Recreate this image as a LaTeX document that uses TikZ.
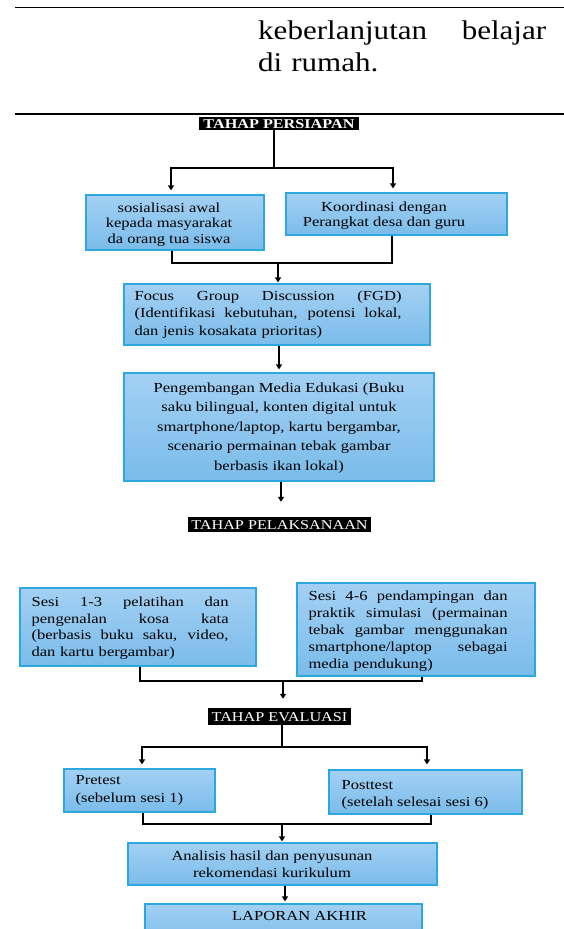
\documentclass[tikz,border=0pt]{standalone}
\usepackage{fontspec}
\setmainfont{Liberation Serif}
\newfontfamily\diagfont[FakeStretch=1.2]{Liberation Serif}
\newfontfamily\pagefont[FakeStretch=1.15]{Liberation Serif}
\usetikzlibrary{arrows.meta}

\definecolor{boxtop}{RGB}{163,208,243}
\definecolor{boxbottom}{RGB}{122,188,234}
\definecolor{boxline}{RGB}{44,167,223}

% full-width line, spaces stretched
\newcommand{\spreadline}[1]{{\spaceskip=0pt\xspaceskip=0pt\makebox[\hsize][s]{#1}}}

\tikzset{
  box/.style={draw=boxline, line width=1.2pt, top color=boxtop, bottom color=boxbottom, inner sep=0pt},
  stage/.style={fill=black, text=white, inner sep=0pt, text height=9pt, text depth=0pt,
    font=\diagfont\fontsize{13.5}{16}\selectfont},
  txt/.style={inner sep=0pt, font=\diagfont\fontsize{13.8}{17}\selectfont},
  link/.style={line width=1.5pt},
  arrow/.style={line width=1.5pt, -{Triangle[width=6pt,length=5pt]}},
}

\begin{document}
\begin{tikzpicture}[x=1pt, y=-1pt]
  \useasboundingbox (0,0) rectangle (564,929);
  \clip (0,0) rectangle (564,929);

  % End of the text above
  \draw[line width=1.6pt] (15,7.5) -- (564,7.5);
  \node[txt, anchor=north west, text width=288pt, align=left,
    font=\pagefont\fontsize{27}{32.5}\selectfont] (cont) at (258,20.5)
    {\spreadline{keberlanjutan belajar}\\di rumah.};
  \draw[line width=1.6pt] (15,114) -- (564,114);

  % Tahap persiapan
  \node[stage, font=\diagfont\bfseries\fontsize{13.5}{16}\selectfont,
    minimum width=160pt, minimum height=13pt] (persiapan) at (279,123.5) {TAHAP PERSIAPAN};
  \node[box, minimum width=178pt, minimum height=55pt] (sos) at (175,222.5) {};
  \node[txt, align=center, font=\diagfont\fontsize{13.8}{15.5}\selectfont] (sos-t)
    at ([xshift=-6pt,yshift=-2pt]sos.center) {sosialisasi awal\\kepada masyarakat\\da orang tua siswa};
  \node[box, minimum width=221pt, minimum height=42pt] (koor) at (396.5,214) {};
  \node[txt, align=center, font=\diagfont\fontsize{13.8}{15}\selectfont] (koor-t)
    at ([xshift=-12.5pt,yshift=-1.5pt]koor.center) {Koordinasi dengan\\Perangkat desa dan guru};

  \coordinate (split1) at (274,168);
  \draw[link] ([xshift=-5pt]persiapan.south) -- (split1);
  \draw[arrow] (split1) -| ([xshift=-4pt,yshift=4pt]sos.north);
  \draw[arrow] (split1) -| ([xshift=-3.5pt,yshift=4pt]koor.north);

  \coordinate (merge1) at (278,263);
  \draw[link] ([xshift=-3pt]sos.south) |- (merge1) -| ([xshift=-4.5pt]koor.south);

  % FGD
  \node[box, minimum width=306pt, minimum height=61pt] (fgd) at (277,314.5) {};
  \node[txt, anchor=west, text width=267pt, align=left,
    font=\diagfont\fontsize{13.8}{17.5}\selectfont] (fgd-t) at ([xshift=11pt]fgd.west)
    {\spreadline{Focus Group Discussion (FGD)}\\
     \spreadline{(Identifikasi kebutuhan, potensi lokal,}\\
     dan jenis kosakata prioritas)};
  \draw[arrow, shorten >=1pt] (merge1) -- (merge1 |- fgd.north);

  % Media
  \node[box, minimum width=310pt, minimum height=108pt] (media) at (279,427) {};
  \node[txt, align=center, font=\diagfont\fontsize{13.8}{19.5}\selectfont] (media-t)
    at ([yshift=-1pt]media.center)
    {Pengembangan Media Edukasi (Buku\\saku bilingual, konten digital untuk\\
     smartphone/laptop, kartu bergambar,\\scenario permainan tebak gambar\\berbasis ikan lokal)};
  \draw[arrow, shorten >=3pt] (fgd.south -| media.north) -- (media.north);

  % Tahap pelaksanaan
  \node[stage, minimum width=183pt, minimum height=15pt] (pelaksanaan) at (279.5,524.5) {TAHAP PELAKSANAAN};
  \draw[arrow] ([xshift=2pt]media.south) -- ([xshift=1.5pt,yshift=15pt]pelaksanaan.north);

  \node[box, minimum width=236pt, minimum height=78pt] (sesiA) at (138,627) {};
  \node[txt, anchor=west, text width=197pt, align=left,
    font=\diagfont\fontsize{13.8}{16.5}\selectfont] (sesiA-t) at ([xshift=12pt,yshift=-1pt]sesiA.west)
    {\spreadline{Sesi 1-3 pelatihan dan}\\
     \spreadline{pengenalan kosa kata}\\
     \spreadline{(berbasis buku saku, video,}\\
     dan kartu bergambar)};
  \node[box, minimum width=238pt, minimum height=93pt] (sesiB) at (416,629.5) {};
  \node[txt, anchor=west, text width=199pt, align=left] (sesiB-t)
    at ([xshift=12pt,yshift=-1.5pt]sesiB.west)
    {\spreadline{Sesi 4-6 pendampingan dan}\\
     \spreadline{praktik simulasi (permainan}\\
     \spreadline{tebak gambar menggunakan}\\
     \spreadline{smartphone/laptop sebagai}\\
     media pendukung)};

  \coordinate (merge2) at (283,681);
  \draw[link] ([xshift=2pt]sesiA.south) |- (merge2) -| ([xshift=6pt]sesiB.south);

  % Tahap evaluasi
  \node[stage, minimum width=143pt, minimum height=17pt] (evaluasi) at (279.5,716.5) {TAHAP EVALUASI};
  \draw[arrow] (merge2) -- ([xshift=3.5pt,yshift=9pt]evaluasi.north);

  \node[box, minimum width=151pt, minimum height=43pt] (pre) at (139.5,790.5) {};
  \node[txt, anchor=west, align=left, font=\diagfont\fontsize{13.8}{18}\selectfont] (pre-t)
    at ([xshift=12pt]pre.west) {Pretest\\(sebelum sesi 1)};
  \node[box, minimum width=193pt, minimum height=44pt] (post) at (425.5,792) {};
  \node[txt, anchor=west, align=left] (post-t)
    at ([xshift=13pt,yshift=-2.5pt]post.west) {Posttest\\(setelah selesai sesi 6)};

  \coordinate (split2) at (282,747);
  \draw[link] ([xshift=2.5pt]evaluasi.south) -- (split2);
  \draw[arrow] (split2) -| ([xshift=2.5pt,yshift=4pt]pre.north);
  \draw[arrow] (split2) -| ([xshift=1.5pt,yshift=5pt]post.north);

  \coordinate (merge3) at (282,824);
  \draw[link] ([xshift=3.5pt]pre.south) |- (merge3) -| ([xshift=5.5pt]post.south);

  % Analisis dan laporan
  \node[box, minimum width=309pt, minimum height=42pt] (analisis) at (282.5,864) {};
  \node[txt, align=center] (analisis-t) at ([xshift=-10.5pt]analisis.center)
    {Analisis hasil dan penyusunan\\rekomendasi kurikulum};
  \draw[arrow, shorten >=1pt] (merge3) -- (merge3 |- analisis.north);

  \node[box, minimum width=277pt, minimum height=41pt] (laporan) at (283.5,924.5) {};
  \node[txt] (laporan-t) at ([xshift=16pt,yshift=-13pt]laporan.north) {LAPORAN AKHIR};
  \draw[arrow] ([xshift=2.5pt]analisis.south) -- ([xshift=1.5pt,yshift=2pt]laporan.north);
\end{tikzpicture}
\end{document}
